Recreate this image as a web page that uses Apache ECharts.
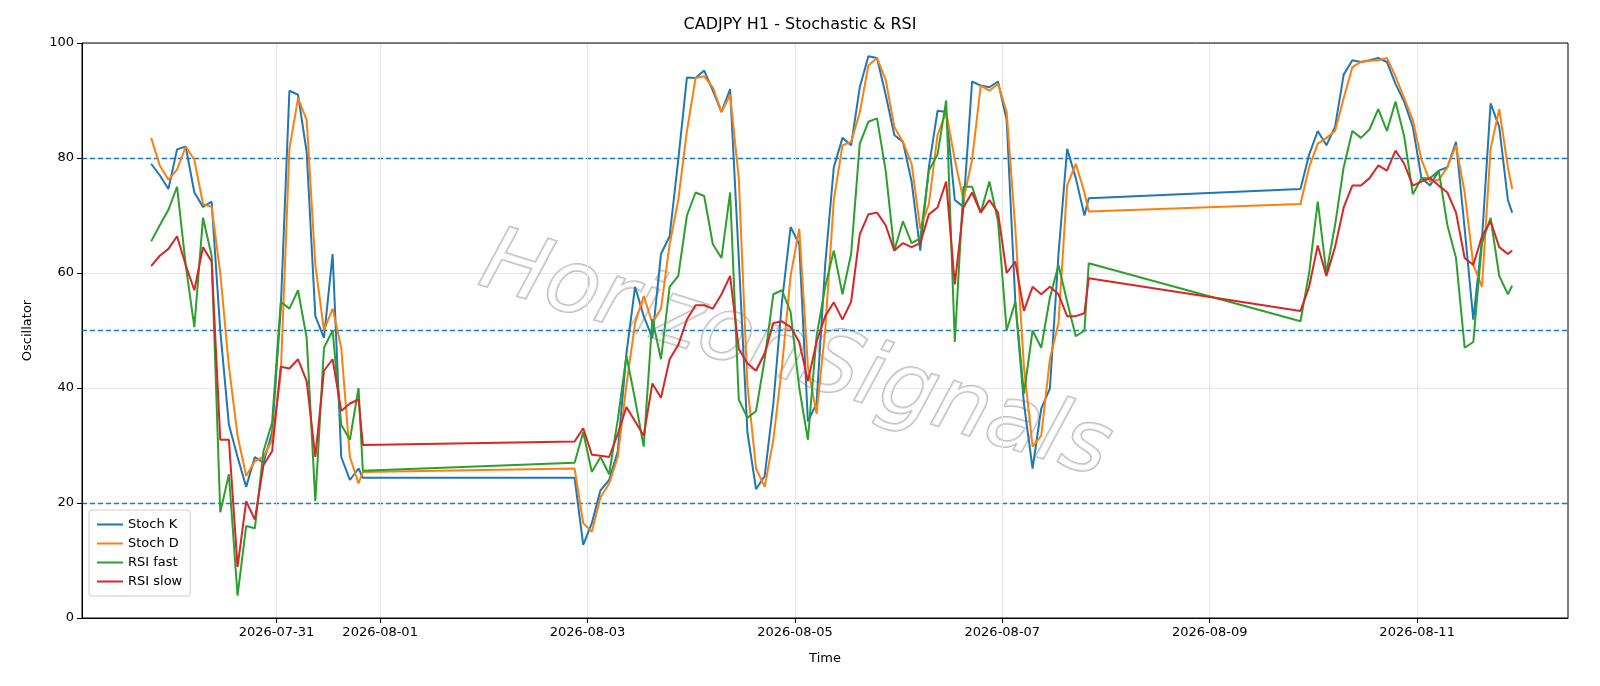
<!DOCTYPE html>
<html>
<head>
<meta charset="utf-8">
<script src="https://cdn.jsdelivr.net/npm/echarts@6/dist/echarts.min.js"></script>
<style>html,body{margin:0;background:#fff}#c{width:1600px;height:686px}</style>
</head>
<body>
<div id="c"></div>
<script>
// segment starts (UTC), hourly data sampled every 2h
var seg1Start = '2026-07-29T19:00:00Z', seg1Count = 25, seg1Last = '2026-07-31T20:00:00Z';
var seg2Start = '2026-08-02T21:00:00Z', seg2Count = 60, seg2Last = '2026-08-07T20:00:00Z';
var seg3Start = '2026-08-09T21:00:00Z', seg3Count = 25, seg3Last = '2026-08-11T22:00:00Z';

var stochK1 = [79,77,74.6,81.5,82,74,71.5,72.4,50,33.6,28,22.8,28,27,32.3,53.8,91.7,91,81,52.5,48.7,63.3,28,24,26,24.4];
var stochD1 = [83.5,78.7,76.2,78,82,79.7,72,71.5,60,43.7,31.7,24.7,27.3,28,31,42.4,81.6,90.4,86.6,61.4,50,53.8,47,28,23.4,25.4];
var rsiFast1 = [65.5,68.3,71,75,61.4,50.6,69.6,63,18.4,25,3.9,16,15.6,29,34,55,53.8,57,48.7,20.3,47,50,33.6,31,40,25.6];
var rsiSlow1 = [61.2,63,64.2,66.4,61.4,57,64.5,62,31,31,8.9,20.3,17.1,26.6,29,43.7,43.4,45,41.2,28,43,45,36,37.3,38,30.1];

var stochK2 = [24.4,12.7,16.5,22.2,24,29,46,57.6,52.5,48.7,63.3,66.4,79.7,94,93.9,95.2,91.7,88,92,62.6,32.3,22.4,24.7,37.3,55,68,65,34.2,37.3,61.4,78.4,83.5,82.2,92.3,97.7,97.4,91,84,82.8,75.9,63.9,78.4,88.2,88,72.7,71.5,93.3,92.6,92.3,93.3,86.6,55,37.3,26,36.4,39.9,63.3,81.6,76.5,70,73];
var stochD2 = [26,16.5,15,21,23.4,28,40.5,51.3,56,51.3,53.8,65,72.7,84.7,93.9,94.2,92.3,88,91,76.5,40.5,26,22.8,31,43.7,59.5,67.7,43.7,35.5,50,72.7,82.2,82.8,87.9,96.1,97.4,93.6,85.4,82.8,79,67.7,72,84,88,79.7,72.7,79.7,92.6,91.7,92.9,88,67.7,43.7,29.8,31.7,45,51.3,75.2,79,74,70.7];
var rsiFast2 = [27,32.3,25.4,28,25,34.5,45.6,38,29.8,52,45,57.6,59.5,70,74,73.4,65,62.6,74,38,34.8,36,45,56.3,57,53.2,40,31,49,57.6,63.9,56.3,63.3,82.5,86.3,86.9,77.8,63.9,69,65.2,66,77.8,80.6,90,48,75,75,70.5,75.9,69,50,55,39,50,47,55.7,61.4,55,49,50,61.7];
var rsiSlow2 = [30.7,33,28.4,28.2,28,32,36.7,34.2,31.7,40.8,38.3,45,47.5,51.9,54.4,54.4,53.8,56.3,59.5,46.8,44.3,43,46,51.3,51.6,50.6,48,41.2,48,52.5,54.9,51.9,55,66.7,70.2,70.5,68.3,63.9,65.2,64.5,65.2,70.2,71.4,75.9,58,71.4,74,70.5,72.7,70.5,60,62,53.4,57.6,56.3,57.6,56.3,52.5,52.5,53,59.1];

var stochK3 = [74.6,80.6,84.7,82.2,85.4,94.5,97,96.7,97,97.4,96.7,92.9,89.8,85.4,76.5,75.2,77.8,78.4,82.8,67.7,51.9,65.8,89.5,85.4,72.7,70.5];
var stochD3 = [72,78.4,82.5,83.5,84.7,90.4,95.8,96.7,96.9,97,97.4,94.2,90.4,86.6,79.7,75.9,76.2,78.4,82.2,74,61.4,57.6,81.6,88.5,78.4,74.6];
var rsiFast3 = [51.6,60,72.4,60,68.3,78.4,84.7,83.5,85,88.5,84.7,89.8,83.8,73.7,76.5,76.5,77.8,68.3,62.6,47,48,65.2,69.6,59.5,56.3,57.8];
var rsiSlow3 = [53.4,57.6,64.8,59.5,64.5,71.4,75.2,75.2,76.5,78.7,77.8,81.3,79,75.2,75.9,76.5,75.2,74,70.5,62.6,61.4,66.4,69,64.5,63.3,63.9];

var tickDays = ['2026-07-31','2026-08-01','2026-08-03','2026-08-05','2026-08-07','2026-08-09','2026-08-11'];
var levels = [80, 50, 20];

function segTimes(start, n, last) {
  var t0 = Date.parse(start), out = [];
  for (var i = 0; i < n; i++) out.push(t0 + i * 2 * 3600e3);
  out.push(Date.parse(last));
  return out;
}
var times = [].concat(segTimes(seg1Start, seg1Count, seg1Last),
                      segTimes(seg2Start, seg2Count, seg2Last),
                      segTimes(seg3Start, seg3Count, seg3Last));
function pairs(a, b, c) {
  var v = [].concat(a, b, c);
  return times.map(function (t, i) { return [t, v[i]]; });
}
var tickMs = tickDays.map(function (d) { return Date.parse(d + 'T00:00:00Z'); });

var G = { left: 82, right: 32, top: 43, bottom: 68 };
var chart = echarts.init(document.getElementById('c'));
var font = 'DejaVu Sans';
function line(name, color, data) {
  return { name: name, type: 'line', data: data, symbol: 'none', z: 5,
    lineStyle: { color: color, width: 2 }, itemStyle: { color: color } };
}
var series = [
  line('Stoch K', '#1f77b4', pairs(stochK1, stochK2, stochK3)),
  line('Stoch D', '#ff7f0e', pairs(stochD1, stochD2, stochD3)),
  line('RSI fast', '#2ca02c', pairs(rsiFast1, rsiFast2, rsiFast3)),
  line('RSI slow', '#d62728', pairs(rsiSlow1, rsiSlow2, rsiSlow3))
];
series[0].markLine = {
  silent: true, symbol: 'none', label: { show: false },
  lineStyle: { color: '#1f77b4', type: [5, 3], width: 1.3 },
  data: levels.map(function (v) { return { yAxis: v }; })
};
series.push({
  type: 'line', data: [], silent: true, z: 1,
  markLine: {
    silent: true, symbol: 'none', label: { show: false },
    lineStyle: { color: '#e6e6e6', type: 'solid', width: 1 },
    data: tickMs.map(function (t) { return { xAxis: t }; })
  }
});

chart.setOption({
  animation: false,
  textStyle: { fontFamily: font },
  title: { text: 'CADJPY H1 - Stochastic & RSI', left: 'center', top: 12,
    textStyle: { fontFamily: font, fontSize: 16, fontWeight: 'normal', color: '#000' } },
  grid: G,
  legend: {
    data: ['Stoch K', 'Stoch D', 'RSI fast', 'RSI slow'],
    orient: 'vertical', left: 89, bottom: 90, itemGap: 6,
    itemWidth: 26, itemHeight: 2, icon: 'rect',
    padding: [8, 8, 8, 8],
    borderColor: '#cccccc', borderWidth: 1, borderRadius: 3, backgroundColor: 'rgba(255,255,255,0.85)',
    textStyle: { fontFamily: font, fontSize: 13, color: '#000' }
  },
  xAxis: {
    type: 'value',
    min: Date.parse('2026-07-29T03:00:00Z'), max: Date.parse('2026-08-12T10:55:00Z'),
    name: 'Time', nameLocation: 'middle', nameGap: 34,
    nameTextStyle: { fontFamily: font, fontSize: 13, color: '#000' },
    axisLine: { onZero: false, lineStyle: { color: '#000', width: 1 } },
    axisTick: { show: true, customValues: tickMs, length: 5, lineStyle: { color: '#000' } },
    axisLabel: { customValues: tickMs, fontFamily: font, fontSize: 13, color: '#000', margin: 8,
      formatter: function (v) { return new Date(v).toISOString().slice(0, 10); } },
    splitLine: { show: false }
  },
  yAxis: {
    type: 'value', min: 0, max: 100, interval: 20,
    name: 'Oscillator', nameLocation: 'middle', nameGap: 48,
    nameTextStyle: { fontFamily: font, fontSize: 13, color: '#000' },
    axisLine: { show: true, lineStyle: { color: '#000' } },
    axisTick: { show: true, length: 5, lineStyle: { color: '#000' } },
    axisLabel: { fontFamily: font, fontSize: 13, color: '#000', margin: 8 },
    splitLine: { show: true, lineStyle: { color: '#e6e6e6' } }
  },
  graphic: [
    { type: 'rect', silent: true, z: 100,
      shape: { x: G.left, y: G.top, width: 1600 - G.left - G.right, height: 686 - G.top - G.bottom },
      style: { fill: 'none', stroke: '#000', lineWidth: 1 } },
    { type: 'text', x: 795, y: 358, rotation: -0.3, z: 3, silent: true,
      style: { text: 'HorizonSignals', fontFamily: font, fontSize: 88, fontStyle: 'italic',
        align: 'center', verticalAlign: 'middle',
        fill: 'rgba(255,255,255,0.5)', stroke: '#bdbdbd', lineWidth: 2,
        shadowColor: 'rgba(0,0,0,0.3)', shadowBlur: 2, shadowOffsetX: 4, shadowOffsetY: 4 } }
  ],
  series: series
});
</script>
</body>
</html>
